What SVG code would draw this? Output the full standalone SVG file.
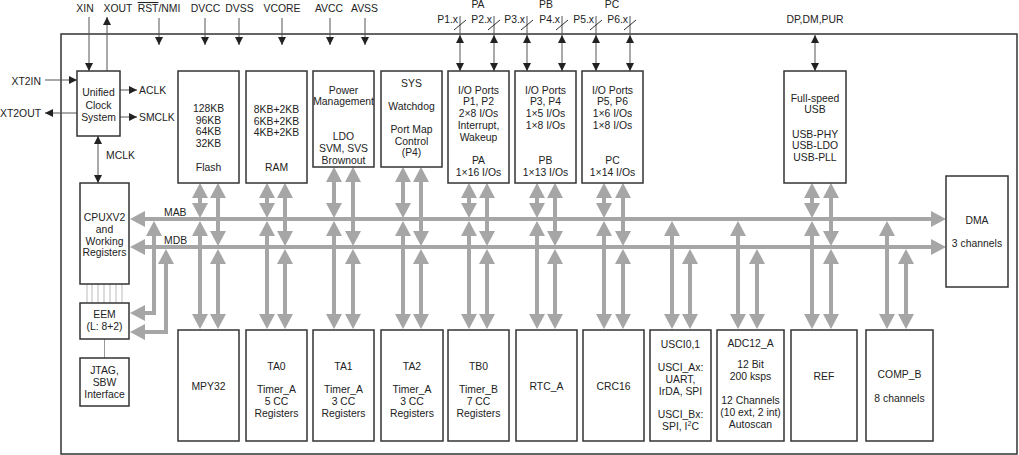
<svg xmlns="http://www.w3.org/2000/svg" xmlns:xlink="http://www.w3.org/1999/xlink" width="1019" height="455" viewBox="0 0 1019 455">
<style>
.t{font-family:"Liberation Sans",Arial,sans-serif;font-size:10.4px;fill:#222;text-anchor:middle}
.s{text-anchor:start}
.e{text-anchor:end}
.blk{fill:#fff;stroke:#333;stroke-width:1.5}
.sig{stroke:#555;stroke-width:1;fill:none}
.bus{stroke:#a6a6a6;stroke-width:4;fill:none}
.thin{stroke:#bbb;stroke-width:1}
.sl{stroke:#333;stroke-width:1}
</style>
<defs>
<marker id="a" viewBox="0 0 8 8" refX="8" refY="4" markerWidth="8" markerHeight="8" markerUnits="userSpaceOnUse" orient="auto-start-reverse"><path d="M0,0 L8,4 L0,8 z" fill="#222"/></marker>
<polygon id="gu" points="0,0 8,15 -8,15" fill="#a6a6a6"/>
<polygon id="gd" points="0,0 8,-15 -8,-15" fill="#a6a6a6"/>
<polygon id="gl" points="0,0 15,-8 15,8" fill="#a6a6a6"/>
<polygon id="gr" points="0,0 -15,-8 -15,8" fill="#a6a6a6"/>
</defs>

<rect id="frame" x="61" y="34" width="956" height="420" fill="none" stroke="#333" stroke-width="1.5"/>

<!-- external signals -->
<g id="signals">
<text class="t" x="85" y="12">XIN</text>
<text class="t" x="118" y="12">XOUT</text>
<text class="t" x="159" y="12"><tspan style="text-decoration:overline">RST</tspan>/NMI</text>
<text class="t" x="205.5" y="12">DVCC</text>
<text class="t" x="239.5" y="12">DVSS</text>
<text class="t" x="282" y="12">VCORE</text>
<text class="t" x="329" y="12">AVCC</text>
<text class="t" x="364.5" y="12">AVSS</text>
<path class="sig" d="M89,17 V71" marker-end="url(#a)"/>
<path class="sig" d="M107,71 V17" marker-end="url(#a)"/>
<path class="sig" d="M159,18 V45" marker-end="url(#a)"/>
<path class="sig" d="M205,18 V45" marker-end="url(#a)"/>
<path class="sig" d="M239,18 V45" marker-end="url(#a)"/>
<path class="sig" d="M282,18 V45" marker-end="url(#a)"/>
<path class="sig" d="M330,18 V45" marker-end="url(#a)"/>
<path class="sig" d="M365,18 V45" marker-end="url(#a)"/>
<text class="t e" x="41" y="85">XT2IN</text>
<text class="t e" x="41" y="117">XT2OUT</text>
<path class="sig" d="M45,80 H77" marker-end="url(#a)"/>
<path class="sig" d="M77,113 H45" marker-end="url(#a)"/>
<text class="t s" x="139" y="94">ACLK</text>
<text class="t s" x="139" y="121">SMCLK</text>
<path class="sig" d="M120,90 H137" marker-end="url(#a)"/>
<path class="sig" d="M120,117 H137" marker-end="url(#a)"/>
<text class="t s" x="106" y="159">MCLK</text>
<path class="sig" d="M98,136 V183" marker-start="url(#a)" marker-end="url(#a)"/>
<text class="t" x="478" y="8">PA</text>
<text class="t" x="546" y="8">PB</text>
<text class="t" x="612" y="8">PC</text>
<text class="t e" x="458" y="23">P1.x</text>
<text class="t e" x="492" y="23">P2.x</text>
<text class="t e" x="525" y="23">P3.x</text>
<text class="t e" x="560" y="23">P4.x</text>
<text class="t e" x="594" y="23">P5.x</text>
<text class="t e" x="628" y="23">P6.x</text>
<path class="sig" d="M460,16 V35 M494,16 V35 M527,16 V35 M562,16 V35 M596,16 V35 M630,16 V35"/>
<path class="sl" d="M454,30 L466,20 M488,30 L500,20 M521,30 L533,20 M556,30 L568,20 M590,30 L602,20 M624,30 L636,20"/>
<path class="sig" d="M460,35 V71" marker-start="url(#a)" marker-end="url(#a)"/>
<path class="sig" d="M494,35 V71" marker-start="url(#a)" marker-end="url(#a)"/>
<path class="sig" d="M527,35 V71" marker-start="url(#a)" marker-end="url(#a)"/>
<path class="sig" d="M562,35 V71" marker-start="url(#a)" marker-end="url(#a)"/>
<path class="sig" d="M596,35 V71" marker-start="url(#a)" marker-end="url(#a)"/>
<path class="sig" d="M630,35 V71" marker-start="url(#a)" marker-end="url(#a)"/>
<text class="t" x="815" y="23">DP,DM,PUR</text>
<path class="sig" d="M815,35 V71" marker-start="url(#a)" marker-end="url(#a)"/>
</g>

<!-- buses and connectors -->
<g id="connectors">
<path class="bus" d="M145,219 H931 M145,247 H931"/>
<use xlink:href="#gl" x="130" y="219"/><use xlink:href="#gr" x="946" y="219"/>
<use xlink:href="#gl" x="130" y="247"/><use xlink:href="#gr" x="946" y="247"/>
<text class="t s" x="164" y="215.5">MAB</text>
<text class="t s" x="164" y="244">MDB</text>
<polyline class="bus" points="154,236 154,313 145,313"/>
<use xlink:href="#gu" x="154" y="221"/><use xlink:href="#gl" x="130" y="313"/>
<polyline class="bus" points="166,264 166,332 145,332"/>
<use xlink:href="#gu" x="166" y="249"/><use xlink:href="#gl" x="130" y="332"/>
<path class="thin" d="M87,284 V303 M92,284 V303 M98,284 V303 M104,284 V303 M110,284 V303 M116,284 V303 M122,284 V303"/>
<path stroke="#999" stroke-width="1" d="M104.5,339 V358"/>

<!-- top-block columns: x1 to MAB, x2 to MDB -->
<path class="bus" d="M200,198 V203 M200,236 V314 M218,198 V231 M218,264 V314"/>
<use xlink:href="#gu" x="200" y="183"/><use xlink:href="#gd" x="200" y="218"/><use xlink:href="#gu" x="200" y="221"/><use xlink:href="#gd" x="200" y="329"/>
<use xlink:href="#gu" x="218" y="183"/><use xlink:href="#gd" x="218" y="246"/><use xlink:href="#gu" x="218" y="249"/><use xlink:href="#gd" x="218" y="329"/>

<path class="bus" d="M267,198 V203 M267,236 V314 M285,198 V231 M285,264 V314"/>
<use xlink:href="#gu" x="267" y="183"/><use xlink:href="#gd" x="267" y="218"/><use xlink:href="#gu" x="267" y="221"/><use xlink:href="#gd" x="267" y="329"/>
<use xlink:href="#gu" x="285" y="183"/><use xlink:href="#gd" x="285" y="246"/><use xlink:href="#gu" x="285" y="249"/><use xlink:href="#gd" x="285" y="329"/>

<path class="bus" d="M334,182 V203 M334,236 V314 M353,182 V231 M353,264 V314"/>
<use xlink:href="#gu" x="334" y="167"/><use xlink:href="#gd" x="334" y="218"/><use xlink:href="#gu" x="334" y="221"/><use xlink:href="#gd" x="334" y="329"/>
<use xlink:href="#gu" x="353" y="167"/><use xlink:href="#gd" x="353" y="246"/><use xlink:href="#gu" x="353" y="249"/><use xlink:href="#gd" x="353" y="329"/>

<path class="bus" d="M403,182 V203 M403,236 V314 M421,182 V231 M421,264 V314"/>
<use xlink:href="#gu" x="403" y="167"/><use xlink:href="#gd" x="403" y="218"/><use xlink:href="#gu" x="403" y="221"/><use xlink:href="#gd" x="403" y="329"/>
<use xlink:href="#gu" x="421" y="167"/><use xlink:href="#gd" x="421" y="246"/><use xlink:href="#gu" x="421" y="249"/><use xlink:href="#gd" x="421" y="329"/>

<path class="bus" d="M469,198 V203 M469,236 V314 M487,198 V231 M487,264 V314"/>
<use xlink:href="#gu" x="469" y="183"/><use xlink:href="#gd" x="469" y="218"/><use xlink:href="#gu" x="469" y="221"/><use xlink:href="#gd" x="469" y="329"/>
<use xlink:href="#gu" x="487" y="183"/><use xlink:href="#gd" x="487" y="246"/><use xlink:href="#gu" x="487" y="249"/><use xlink:href="#gd" x="487" y="329"/>

<path class="bus" d="M537,198 V203 M537,236 V314 M555,198 V231 M555,264 V314"/>
<use xlink:href="#gu" x="537" y="183"/><use xlink:href="#gd" x="537" y="218"/><use xlink:href="#gu" x="537" y="221"/><use xlink:href="#gd" x="537" y="329"/>
<use xlink:href="#gu" x="555" y="183"/><use xlink:href="#gd" x="555" y="246"/><use xlink:href="#gu" x="555" y="249"/><use xlink:href="#gd" x="555" y="329"/>

<path class="bus" d="M604,198 V203 M604,236 V314 M623,198 V231 M623,264 V314"/>
<use xlink:href="#gu" x="604" y="183"/><use xlink:href="#gd" x="604" y="218"/><use xlink:href="#gu" x="604" y="221"/><use xlink:href="#gd" x="604" y="329"/>
<use xlink:href="#gu" x="623" y="183"/><use xlink:href="#gd" x="623" y="246"/><use xlink:href="#gu" x="623" y="249"/><use xlink:href="#gd" x="623" y="329"/>

<path class="bus" d="M812,198 V203 M812,236 V314 M831,198 V231 M831,264 V314"/>
<use xlink:href="#gu" x="812" y="183"/><use xlink:href="#gd" x="812" y="218"/><use xlink:href="#gu" x="812" y="221"/><use xlink:href="#gd" x="812" y="329"/>
<use xlink:href="#gu" x="831" y="183"/><use xlink:href="#gd" x="831" y="246"/><use xlink:href="#gu" x="831" y="249"/><use xlink:href="#gd" x="831" y="329"/>

<!-- bottom-only columns -->
<path class="bus" d="M672,236 V314 M690,264 V314 M738,236 V314 M757,264 V314 M887,236 V314 M906,264 V314"/>
<use xlink:href="#gu" x="672" y="221"/><use xlink:href="#gd" x="672" y="329"/>
<use xlink:href="#gu" x="690" y="249"/><use xlink:href="#gd" x="690" y="329"/>
<use xlink:href="#gu" x="738" y="221"/><use xlink:href="#gd" x="738" y="329"/>
<use xlink:href="#gu" x="757" y="249"/><use xlink:href="#gd" x="757" y="329"/>
<use xlink:href="#gu" x="887" y="221"/><use xlink:href="#gd" x="887" y="329"/>
<use xlink:href="#gu" x="906" y="249"/><use xlink:href="#gd" x="906" y="329"/>
</g>

<!-- nodes -->
<g id="clock"><rect class="blk" x="77" y="71" width="43" height="65"/>
<text class="t" x="98.5" y="96">Unified</text><text class="t" x="98.5" y="109">Clock</text><text class="t" x="98.5" y="121">System</text></g>

<g id="flash"><rect class="blk" x="178" y="71" width="61" height="112"/>
<text class="t" x="208.5" y="112">128KB</text><text class="t" x="208.5" y="123.5">96KB</text><text class="t" x="208.5" y="135">64KB</text><text class="t" x="208.5" y="147">32KB</text><text class="t" x="208.5" y="171">Flash</text></g>

<g id="ram"><rect class="blk" x="246" y="71" width="61" height="112"/>
<text class="t" x="276.5" y="113">8KB+2KB</text><text class="t" x="276.5" y="124.5">6KB+2KB</text><text class="t" x="276.5" y="136">4KB+2KB</text><text class="t" x="276.5" y="171">RAM</text></g>

<g id="power"><rect class="blk" x="313" y="71" width="61" height="96"/>
<text class="t" x="343.5" y="94">Power</text><text class="t" x="343.5" y="105">Management</text><text class="t" x="343.5" y="140">LDO</text><text class="t" x="343.5" y="152">SVM, SVS</text><text class="t" x="343.5" y="164">Brownout</text></g>

<g id="sys"><rect class="blk" x="381" y="71" width="61" height="96"/>
<text class="t" x="411.5" y="87">SYS</text><text class="t" x="411.5" y="110">Watchdog</text><text class="t" x="411.5" y="133">Port Map</text><text class="t" x="411.5" y="145">Control</text><text class="t" x="411.5" y="156">(P4)</text></g>

<g id="pa"><rect class="blk" x="448" y="71" width="61" height="112"/>
<text class="t" x="478.5" y="94">I/O Ports</text><text class="t" x="478.5" y="105">P1, P2</text><text class="t" x="478.5" y="117">2×8 I/Os</text><text class="t" x="478.5" y="129">Interrupt,</text><text class="t" x="478.5" y="141">Wakeup</text><text class="t" x="478.5" y="164">PA</text><text class="t" x="478.5" y="176">1×16 I/Os</text></g>

<g id="pb"><rect class="blk" x="515" y="71" width="61" height="112"/>
<text class="t" x="545.5" y="94">I/O Ports</text><text class="t" x="545.5" y="105">P3, P4</text><text class="t" x="545.5" y="117">1×5 I/Os</text><text class="t" x="545.5" y="129">1×8 I/Os</text><text class="t" x="545.5" y="164">PB</text><text class="t" x="545.5" y="176">1×13 I/Os</text></g>

<g id="pc"><rect class="blk" x="582" y="71" width="61" height="112"/>
<text class="t" x="612.5" y="94">I/O Ports</text><text class="t" x="612.5" y="105">P5, P6</text><text class="t" x="612.5" y="117">1×6 I/Os</text><text class="t" x="612.5" y="129">1×8 I/Os</text><text class="t" x="612.5" y="164">PC</text><text class="t" x="612.5" y="176">1×14 I/Os</text></g>

<g id="usb"><rect class="blk" x="784" y="71" width="62" height="112"/>
<text class="t" x="815" y="102">Full-speed</text><text class="t" x="815" y="113">USB</text><text class="t" x="815" y="137.5">USB-PHY</text><text class="t" x="815" y="149">USB-LDO</text><text class="t" x="815" y="160.5">USB-PLL</text></g>

<g id="dma"><rect class="blk" x="946" y="176" width="62" height="111"/>
<text class="t" x="977" y="223.5">DMA</text><text class="t" x="977" y="247">3 channels</text></g>

<g id="cpu"><rect class="blk" x="80" y="183" width="49" height="101"/>
<text class="t" x="104.5" y="221">CPUXV2</text><text class="t" x="104.5" y="233">and</text><text class="t" x="104.5" y="244.5">Working</text><text class="t" x="104.5" y="256">Registers</text></g>

<g id="eem"><rect class="blk" x="80" y="303" width="49" height="36"/>
<text class="t" x="104.5" y="318">EEM</text><text class="t" x="104.5" y="330">(L: 8+2)</text></g>

<g id="jtag"><rect class="blk" x="80" y="358" width="49" height="48"/>
<text class="t" x="104.5" y="374">JTAG,</text><text class="t" x="104.5" y="386">SBW</text><text class="t" x="104.5" y="397.5">Interface</text></g>

<g id="mpy32"><rect class="blk" x="178" y="330" width="61" height="111"/>
<text class="t" x="208.5" y="390">MPY32</text></g>

<g id="ta0"><rect class="blk" x="246" y="330" width="61" height="111"/>
<text class="t" x="276.5" y="370">TA0</text><text class="t" x="276.5" y="393">Timer_A</text><text class="t" x="276.5" y="405">5 CC</text><text class="t" x="276.5" y="416.5">Registers</text></g>

<g id="ta1"><rect class="blk" x="313" y="330" width="61" height="111"/>
<text class="t" x="343.5" y="370">TA1</text><text class="t" x="343.5" y="393">Timer_A</text><text class="t" x="343.5" y="405">3 CC</text><text class="t" x="343.5" y="416.5">Registers</text></g>

<g id="ta2"><rect class="blk" x="381" y="330" width="62" height="111"/>
<text class="t" x="412" y="370">TA2</text><text class="t" x="412" y="393">Timer_A</text><text class="t" x="412" y="405">3 CC</text><text class="t" x="412" y="416.5">Registers</text></g>

<g id="tb0"><rect class="blk" x="448" y="330" width="61" height="111"/>
<text class="t" x="478.5" y="370">TB0</text><text class="t" x="478.5" y="393">Timer_B</text><text class="t" x="478.5" y="405">7 CC</text><text class="t" x="478.5" y="416.5">Registers</text></g>

<g id="rtc"><rect class="blk" x="516" y="330" width="61" height="111"/>
<text class="t" x="546.5" y="390">RTC_A</text></g>

<g id="crc"><rect class="blk" x="583" y="330" width="61" height="111"/>
<text class="t" x="613.5" y="390">CRC16</text></g>

<g id="usci"><rect class="blk" x="650" y="330" width="61" height="111"/>
<text class="t" x="680.5" y="348">USCI0,1</text><text class="t" x="680.5" y="371">USCI_Ax:</text><text class="t" x="680.5" y="383">UART,</text><text class="t" x="680.5" y="394.5">IrDA, SPI</text><text class="t" x="680.5" y="418">USCI_Bx:</text><text class="t" x="680.5" y="430">SPI, I<tspan dy="-4" font-size="7">2</tspan><tspan dy="4">C</tspan></text></g>

<g id="adc"><rect class="blk" x="717" y="330" width="67" height="111"/>
<text class="t" x="750.5" y="347">ADC12_A</text><text class="t" x="750.5" y="368">12 Bit</text><text class="t" x="750.5" y="380">200 ksps</text><text class="t" x="750.5" y="404">12 Channels</text><text class="t" x="750.5" y="415.5">(10 ext, 2 int)</text><text class="t" x="750.5" y="428">Autoscan</text></g>

<g id="ref"><rect class="blk" x="791" y="330" width="66" height="111"/>
<text class="t" x="824" y="379.5">REF</text></g>

<g id="compb"><rect class="blk" x="866" y="330" width="67" height="111"/>
<text class="t" x="899.5" y="378">COMP_B</text><text class="t" x="899.5" y="402">8 channels</text></g>
</svg>
